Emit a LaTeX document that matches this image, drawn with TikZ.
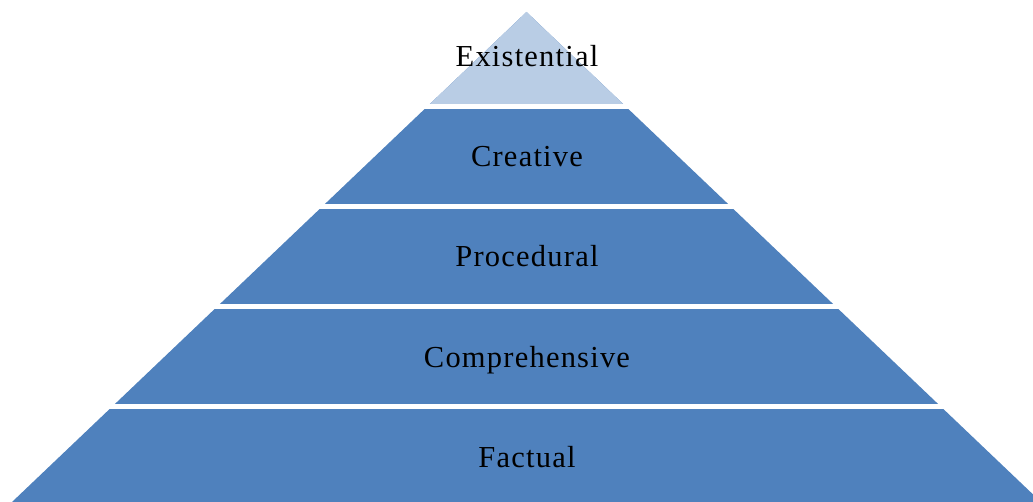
\documentclass[tikz,border=0pt]{standalone}
\usepackage{fontspec}
\setmainfont{Liberation Serif}
\definecolor{darkblue}{HTML}{4F81BD}
\definecolor{lightblue}{HTML}{B9CDE5}
\begin{document}
\begin{tikzpicture}[x=1pt,y=-1pt,
  label/.style={anchor=base,inner sep=0pt,font=\fontsize{30.5}{36}\selectfont\addfontfeature{LetterSpace=4},text=black},
  gap/.style={fill=white,draw=none}]
\useasboundingbox (0,0) rectangle (1033,502);
\clip (0,0) rectangle (1033,502);
\coordinate (apex) at (526.5,12);
\coordinate (bl) at (12,502);
\coordinate (br) at (1041,502);
\coordinate (tl) at (429.9,104);
\coordinate (tr) at (623.1,104);
\fill[darkblue] (apex) -- (bl) -- (br) -- cycle;
\fill[lightblue] (apex) -- (tl) -- (tr) -- cycle;
\foreach \y in {104,204,304,404}{
  \fill[gap] (0,\y) rectangle (1033,\y+5);
}
\node[label] (existential) at (527,67) {Existential};
\node[label] (creative) at (527,167) {Creative};
\node[label] (procedural) at (527,267) {Procedural};
\node[label] (comprehensive) at (527,367) {Comprehensive};
\node[label] (factual) at (527,467) {Factual};
\end{tikzpicture}
\end{document}
